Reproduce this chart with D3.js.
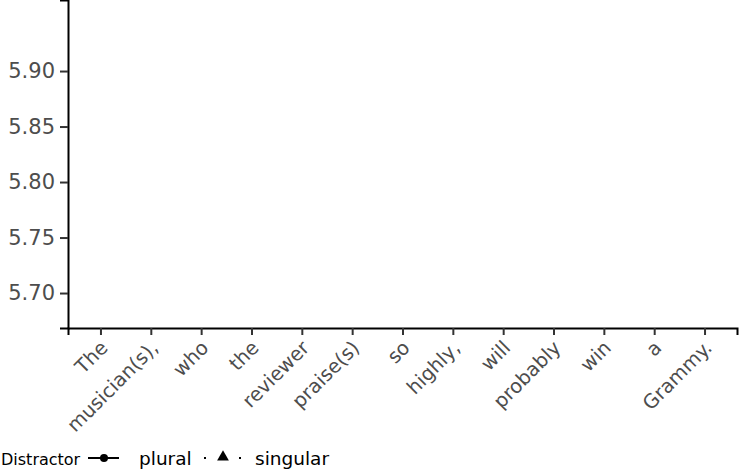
<!DOCTYPE html>
<html>
<head>
<meta charset="utf-8">
<script src="https://cdn.jsdelivr.net/npm/d3@7"></script>
<style>
  html, body { margin: 0; padding: 0; background: #fff; }
  svg { display: block; }
  text { font-family: "DejaVu Sans", sans-serif; }
</style>
</head>
<body>
<svg id="chart" width="739" height="471"></svg>
<script>
// ---- data ----
const categories = ["The", "musician(s),", "who", "the", "reviewer", "praise(s)", "so",
                    "highly,", "will", "probably", "win", "a", "Grammy."];
const yTicks = [5.70, 5.75, 5.80, 5.85, 5.90];
const yDomain = [5.6685, 5.964];
// No data points are visible inside the plotted range of the reference.
const pluralValues = [];
const singularValues = [];
const legendTitle = "Distractor";
const seriesNames = ["plural", "singular"];

// ---- layout ----
(function () {
const svg = d3.select("#chart");
const pL = 68, pR = 737, pT = 0, pB = 328;

const x = d3.scalePoint().domain(categories).range([pL, pR]).padding(0.645);
const y = d3.scaleLinear().domain(yDomain).range([pB, pT]);

const plot = svg.append("g");
const lineGen = d3.line().x(d => x(d.cat)).y(d => y(d.v));
[[pluralValues, "none"], [singularValues, "2,4"]].forEach(([vals, dash]) => {
  const pts = vals.map((v, i) => ({cat: categories[i], v}));
  plot.append("path").datum(pts).attr("d", lineGen).attr("fill", "none")
    .attr("stroke", "#000").attr("stroke-width", 1.5).attr("stroke-dasharray", dash);
});

// y axis
const yAxis = svg.append("g").attr("transform", `translate(${pL},0)`)
  .call(d3.axisLeft(y).tickValues(yTicks).tickFormat(d3.format(".2f")).tickSize(8).tickPadding(5));
yAxis.select(".domain").attr("stroke", "#000").attr("stroke-width", 2);
yAxis.selectAll(".tick line").attr("stroke", "#333").attr("stroke-width", 2);
yAxis.selectAll(".tick text").attr("fill", "#4d4d4d").style("font-size", "21px")
  .style("font-family", "DejaVu Sans");

// x axis
const xAxis = svg.append("g").attr("transform", `translate(0,${pB})`)
  .call(d3.axisBottom(x).tickSize(7).tickPadding(6));
xAxis.select(".domain").attr("stroke", "#000").attr("stroke-width", 2);
xAxis.selectAll(".tick line").attr("stroke", "#333").attr("stroke-width", 2);
xAxis.selectAll(".tick text").attr("fill", "#4d4d4d").style("font-size", "19.5px")
  .style("font-family", "DejaVu Sans")
  .attr("text-anchor", "end")
  .attr("dy", null)
  .attr("y", 0)
  .attr("transform", "translate(8,21) rotate(-45)");

// legend
const ly = 458;
const lg = svg.append("g").style("font-size", "18.5px");
lg.append("text").attr("x", 1).attr("y", ly + 7).style("font-size", "16px")
  .attr("fill", "#000").text(legendTitle);
lg.append("line").attr("x1", 88).attr("x2", 119).attr("y1", ly).attr("y2", ly)
  .attr("stroke", "#000").attr("stroke-width", 2);
lg.append("circle").attr("cx", 104).attr("cy", ly).attr("r", 4).attr("fill", "#000");
lg.append("text").attr("x", 139).attr("y", ly + 7).attr("fill", "#000").text(seriesNames[0]);
lg.append("line").attr("x1", 204).attr("x2", 242).attr("y1", ly).attr("y2", ly)
  .attr("stroke", "#000").attr("stroke-width", 2).attr("stroke-dasharray", "2,15.5").attr("stroke-dashoffset", 0);
lg.append("path").attr("d", d3.symbol().type(d3.symbolTriangle).size(60)())
  .attr("transform", `translate(223,${ly - 1})`).attr("fill", "#000");
lg.append("text").attr("x", 255).attr("y", ly + 7).attr("fill", "#000").text(seriesNames[1]);
})();
</script>
</body>
</html>
